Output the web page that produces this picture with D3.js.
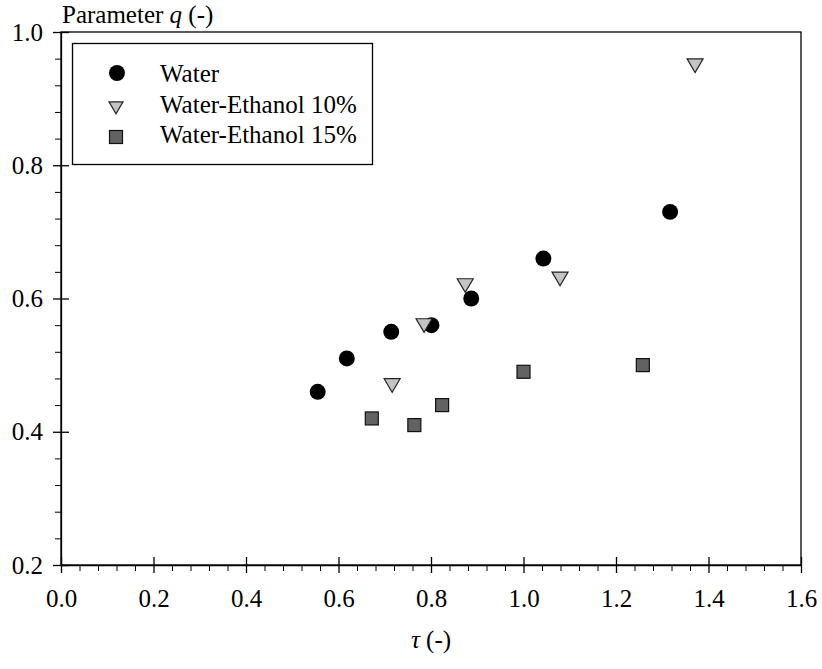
<!DOCTYPE html>
<html>
<head>
<meta charset="utf-8">
<script src="https://cdn.jsdelivr.net/npm/d3@7"></script>
<style>
  body { margin: 0; background: #fff; }
</style>
</head>
<body>
<div id="viz"></div>
<script>
const width = 822;
const height = 669;
const margin = {top: 32, right: 21, bottom: 104, left: 61};
const fontFamily = 'Liberation Serif';
const fontSize = 25;

// Data
const waterTau = [0.555, 0.618, 0.714, 0.801, 0.887, 1.043, 1.317];
const waterQ = [0.46, 0.51, 0.55, 0.56, 0.60, 0.66, 0.73];
const eth10Tau = [0.716, 0.785, 0.874, 1.079, 1.371];
const eth10Q = [0.47, 0.56, 0.62, 0.63, 0.95];
const eth15Tau = [0.672, 0.764, 0.824, 1.000, 1.258];
const eth15Q = [0.42, 0.41, 0.44, 0.49, 0.50];

const xTicks = [0, 0.2, 0.4, 0.6, 0.8, 1.0, 1.2, 1.4, 1.6];
const yTicks = [0.2, 0.4, 0.6, 0.8, 1.0];
const legendLabels = ['Water', 'Water-Ethanol 10%', 'Water-Ethanol 15%'];

const svg = d3.select('#viz')
  .append('svg')
    .attr('width', width)
    .attr('height', height)
    .attr('font-family', fontFamily)
    .attr('font-size', fontSize);

const x = d3.scaleLinear()
  .domain([0, 1.6])
  .range([margin.left, width - margin.right]);

const y = d3.scaleLinear()
  .domain([0.2, 1.0])
  .range([height - margin.bottom, margin.top]);

// minor ticks every 0.04, skipping the majors
const isMajor = v => Math.abs(v * 5 - Math.round(v * 5)) < 1e-6;
const xMinor = d3.range(0, 1.6001, 0.04).filter(v => !isMajor(v));
const yMinor = d3.range(0.2, 1.0001, 0.04).filter(v => !isMajor(v));

// frame
svg.append('rect')
  .attr('x', x(0))
  .attr('y', y(1.0))
  .attr('width', x(1.6) - x(0))
  .attr('height', y(0.2) - y(1.0))
  .attr('fill', 'none')
  .attr('stroke', '#000')
  .attr('stroke-width', 1.3);

// x axis
const xAxis = svg.append('g')
  .attr('transform', `translate(0, ${y(0.2)})`)
  .call(d3.axisBottom(x).tickValues(xTicks).tickSize(8).tickSizeOuter(0).tickPadding(16)
    .tickFormat(d3.format('.1f')));
xAxis.attr('font-family', fontFamily).attr('font-size', fontSize);
xAxis.selectAll('.tick line').attr('y1', -8).attr('stroke-width', 1.3);
xAxis.select('.domain').attr('stroke-width', 1.3);

svg.append('g')
  .attr('transform', `translate(0, ${y(0.2)})`)
  .call(d3.axisBottom(x).tickValues(xMinor).tickSize(6).tickFormat(''))
  .call(g => g.select('.domain').remove());

// y axis
const yAxis = svg.append('g')
  .attr('transform', `translate(${x(0)}, 0)`)
  .call(d3.axisLeft(y).tickValues(yTicks).tickSize(8).tickSizeOuter(0).tickPadding(10)
    .tickFormat(d3.format('.1f')));
yAxis.attr('font-family', fontFamily).attr('font-size', fontSize);
yAxis.selectAll('.tick line').attr('x1', 8).attr('stroke-width', 1.3);
yAxis.select('.domain').attr('stroke-width', 1.3);

svg.append('g')
  .attr('transform', `translate(${x(0)}, 0)`)
  .call(d3.axisLeft(y).tickValues(yMinor).tickSize(6).tickFormat(''))
  .call(g => g.select('.domain').remove());

// axis titles
const yTitle = svg.append('text')
  .attr('x', 62)
  .attr('y', 23);
yTitle.append('tspan').text('Parameter ');
yTitle.append('tspan').attr('font-style', 'italic').text('q');
yTitle.append('tspan').text(' (-)');

const xTitle = svg.append('text')
  .attr('x', 431)
  .attr('y', 648)
  .attr('text-anchor', 'middle');
xTitle.append('tspan').attr('font-style', 'italic').text('τ');
xTitle.append('tspan').text(' (-)');

// markers
const circleSym = d3.symbol().type(d3.symbolCircle).size(200);
const triPath = s => `M${-s},${-s * 0.8}L${s},${-s * 0.8}L0,${s * 0.9}Z`;

const plot = svg.append('g');

plot.selectAll('.water').data(waterTau).join('path')
  .attr('class', 'water')
  .attr('transform', (d, i) => `translate(${x(d)}, ${y(waterQ[i])})`)
  .attr('d', circleSym())
  .attr('fill', '#000');

plot.selectAll('.eth15').data(eth15Tau).join('rect')
  .attr('class', 'eth15')
  .attr('x', d => x(d) - 6.5)
  .attr('y', (d, i) => y(eth15Q[i]) - 6.5)
  .attr('width', 13)
  .attr('height', 13)
  .attr('fill', '#626262')
  .attr('stroke', '#111')
  .attr('stroke-width', 1.2);

plot.selectAll('.eth10').data(eth10Tau).join('path')
  .attr('class', 'eth10')
  .attr('transform', (d, i) => `translate(${x(d)}, ${y(eth10Q[i])})`)
  .attr('d', triPath(8))
  .attr('fill', '#c4c4c4')
  .attr('stroke', '#222')
  .attr('stroke-width', 1.2);

// legend
const legend = svg.append('g');
legend.append('rect')
  .attr('x', 72.5)
  .attr('y', 43.5)
  .attr('width', 300)
  .attr('height', 121)
  .attr('fill', '#fff')
  .attr('stroke', '#000')
  .attr('stroke-width', 1.3);

const markerY = [73, 107.5, 137];
const textY = [82, 112.5, 143];
legend.append('path')
  .attr('transform', `translate(117, ${markerY[0]})`)
  .attr('d', circleSym())
  .attr('fill', '#000');
legend.append('path')
  .attr('transform', `translate(116, ${markerY[1]})`)
  .attr('d', triPath(7))
  .attr('fill', '#c4c4c4')
  .attr('stroke', '#222')
  .attr('stroke-width', 1.2);
legend.append('rect')
  .attr('x', 109.5)
  .attr('y', markerY[2] - 6.5)
  .attr('width', 13)
  .attr('height', 13)
  .attr('fill', '#626262')
  .attr('stroke', '#111')
  .attr('stroke-width', 1.2);

legend.selectAll('.lab').data(legendLabels).join('text')
  .attr('class', 'lab')
  .attr('x', 160)
  .attr('y', (d, i) => textY[i])
  .text(d => d);
</script>
</body>
</html>
